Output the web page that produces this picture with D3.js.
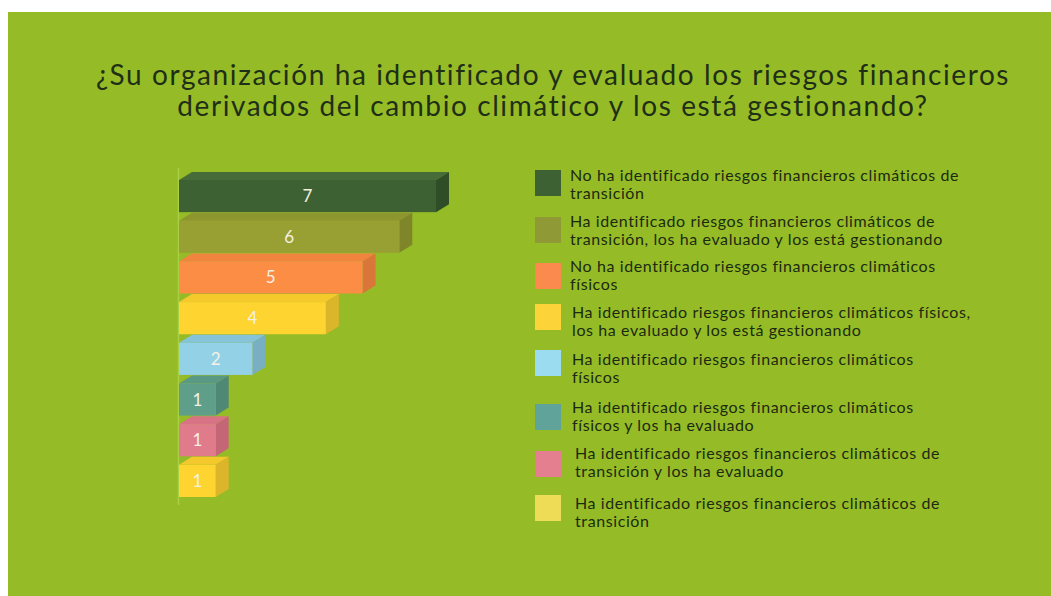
<!DOCTYPE html>
<html>
<head>
<meta charset="utf-8">
<script src="https://cdn.jsdelivr.net/npm/d3@7"></script>
<style>
  body { margin: 0; background: #fff; }
  svg { display: block; }
</style>
</head>
<body>
<svg width="1051" height="596"></svg>
<script>
// data
var titleLines = [
  "¿Su organización ha identificado y evaluado los riesgos financieros",
  "derivados del cambio climático y los está gestionando?"
];
var categories = [
  ["No ha identificado riesgos financieros climáticos de", "transición"],
  ["Ha identificado riesgos financieros climáticos de", "transición, los ha evaluado y los está gestionando"],
  ["No ha identificado riesgos financieros climáticos", "físicos"],
  ["Ha identificado riesgos financieros climáticos físicos,", "los ha evaluado y los está gestionando"],
  ["Ha identificado riesgos financieros climáticos", "físicos"],
  ["Ha identificado riesgos financieros climáticos", "físicos y los ha evaluado"],
  ["Ha identificado riesgos financieros climáticos de", "transición y los ha evaluado"],
  ["Ha identificado riesgos financieros climáticos de", "transición"]
];
var values = [7, 6, 5, 4, 2, 1, 1, 1];
var frontColors  = ["#3e6133", "#989f33", "#fb8d45", "#fed431", "#93d1e6", "#5f9f89", "#e07b8c", "#fed431"];
var topColors    = ["#486b3a", "#8e962f", "#f1853f", "#f3c92c", "#86c3d8", "#5a9984", "#d77384", "#f2c82d"];
var sideColors   = ["#2f4e27", "#7e8629", "#db763a", "#dbb52a", "#78afc3", "#4f8875", "#c46676", "#dcb52b"];
var legendColors = ["#3e6133", "#8f9a36", "#fb8a4e", "#fdd33a", "#9bdcf0", "#5fa39a", "#e47f90", "#eedc56"];

var svg = d3.select("svg");
var font = "Lato, 'Open Sans', sans-serif";

svg.append("rect")
  .attr("x", 8).attr("y", 12)
  .attr("width", 1043).attr("height", 584)
  .attr("fill", "#95bc26");

// title
svg.append("g").selectAll("text")
  .data(titleLines)
  .join("text")
  .attr("x", 553)
  .attr("y", function(d, i) { return 85 + i * 31; })
  .attr("text-anchor", "middle")
  .attr("font-family", font)
  .attr("font-size", 28)
  .attr("letter-spacing", 1.6)
  .attr("fill", "#1f2f17")
  .text(function(d) { return d; });

var x = d3.scaleLinear().domain([0, 7]).range([179, 436]);
var y = d3.scaleBand().domain(d3.range(values.length)).range([180, 497]).paddingInner(0.21);
var dx = 13, dy = 8;

// axis line
svg.append("line")
  .attr("x1", 178.5).attr("x2", 178.5)
  .attr("y1", 168).attr("y2", 505)
  .attr("stroke", "#a9cf45").attr("stroke-width", 1.5);

var bars = svg.append("g").selectAll("g")
  .data(values)
  .join("g");

bars.append("polygon")
  .attr("fill", function(d, i) { return topColors[i]; })
  .attr("points", function(d, i) {
    var x0 = x(0), x1 = x(d), yy = y(i);
    return [[x0, yy], [x0 + dx, yy - dy], [x1 + dx, yy - dy], [x1, yy]].join(" ");
  });

bars.append("polygon")
  .attr("fill", function(d, i) { return sideColors[i]; })
  .attr("points", function(d, i) {
    var x1 = x(d), yy = y(i), h = y.bandwidth();
    return [[x1, yy], [x1 + dx, yy - dy], [x1 + dx, yy + h - dy], [x1, yy + h]].join(" ");
  });

bars.append("rect")
  .attr("x", x(0))
  .attr("y", function(d, i) { return y(i); })
  .attr("width", function(d) { return x(d) - x(0); })
  .attr("height", y.bandwidth())
  .attr("fill", function(d, i) { return frontColors[i]; });

bars.append("text")
  .attr("x", function(d) { return (x(0) + x(d)) / 2; })
  .attr("y", function(d, i) { return y(i) + y.bandwidth() / 2 + 6; })
  .attr("text-anchor", "middle")
  .attr("font-family", font)
  .attr("font-size", 17)
  .attr("fill", "#f4f1e4")
  .text(function(d) { return d; });

// legend
var legendTop = [170, 217, 263, 304, 350, 404, 451, 495];
var legendTextX = [570, 570, 570, 572, 572, 572, 575, 575];
var legendTextY = [181, 227, 272, 318, 365, 413, 459, 509];

var legend = svg.append("g").selectAll("g")
  .data(categories)
  .join("g");

legend.append("rect")
  .attr("x", 535)
  .attr("y", function(d, i) { return legendTop[i]; })
  .attr("width", 26).attr("height", 26)
  .attr("fill", function(d, i) { return legendColors[i]; });

legend.append("text")
  .attr("font-family", font)
  .attr("font-size", 16)
  .attr("letter-spacing", 0.6)
  .attr("fill", "#1c2a12")
  .each(function(d, k) {
    d3.select(this).selectAll("tspan")
      .data(d)
      .join("tspan")
      .attr("x", legendTextX[k])
      .attr("y", function(t, i) { return legendTextY[k] + i * 18; })
      .text(function(t) { return t; });
  });
</script>
</body>
</html>
